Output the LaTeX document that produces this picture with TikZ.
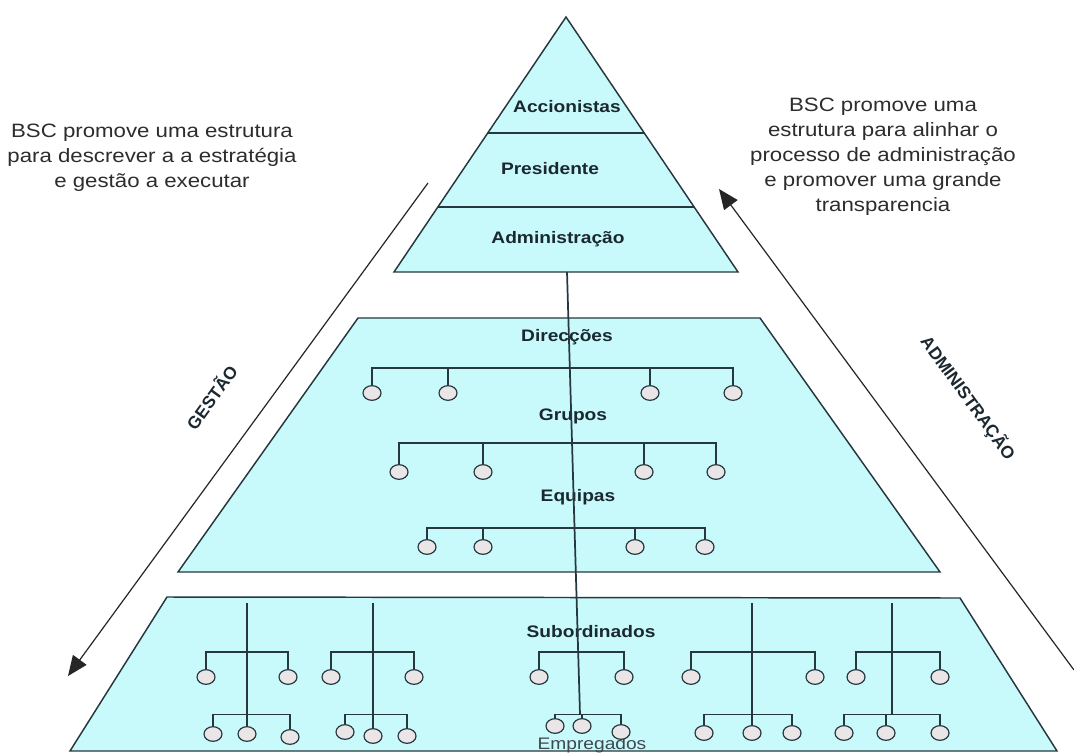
\documentclass[tikz,border=0pt]{standalone}
\usepackage{fontspec}
\setmainfont{Liberation Sans}[FakeStretch=1.15]
\newfontfamily\sidefont{Liberation Sans}
\usetikzlibrary{shapes.geometric,arrows.meta,calc}
\definecolor{pyrfill}{RGB}{200,250,252}
\definecolor{pyrline}{RGB}{38,56,62}
\definecolor{txt}{RGB}{45,45,45}
\definecolor{lbl}{RGB}{28,40,48}
\definecolor{circfill}{RGB}{234,229,231}
\begin{document}
\begin{tikzpicture}[x=0.75pt,y=-0.75pt,
  tier/.style={fill=pyrfill,draw=pyrline,line width=1.1pt,line join=miter},
  sepline/.style={draw=pyrline,line width=1.1pt},
  tline/.style={draw=pyrline,line width=1.3pt},
  emp/.style={ellipse,draw=pyrline,line width=0.9pt,fill=circfill,minimum width=13.5pt,minimum height=11pt,inner sep=0pt},
  lvl/.style={font=\bfseries\fontsize{12.5}{14}\selectfont,text=lbl,inner sep=0pt},
  lvlreg/.style={font=\fontsize{12.5}{14}\selectfont,text=lbl!85,inner sep=0pt},
  note/.style={font=\fontsize{14.5}{18.75}\selectfont,text=txt,align=center,inner sep=0pt},
  side/.style={font=\sidefont\bfseries\fontsize{13}{15}\selectfont,text=lbl,inner sep=0pt},
  flow/.style={draw=black!85,line width=0.9pt,-{Triangle[length=15pt,width=12.5pt]}},
]
\useasboundingbox (0,0) rectangle (1074,753);
\fill[white] (0,0) rectangle (1074,753);

% ---- top triangle ----
\coordinate (apex) at (566,17);
\coordinate (tbl) at (394,272);
\coordinate (tbr) at (738,272);
\draw[tier] (apex) -- (tbr) -- (tbl) -- cycle;
\draw[sepline] ($(apex)!0.455!(tbl)$) -- ($(apex)!0.455!(tbr)$);
\draw[sepline] ($(apex)!0.745!(tbl)$) -- ($(apex)!0.745!(tbr)$);

% ---- middle trapezoid ----
\draw[tier] (358,318) -- (760,318) -- (940,572) -- (178,572) -- cycle;
% ---- bottom trapezoid ----
\draw[tier] (167,597) -- (960,598) -- (1057,751) -- (70,751) -- cycle;

% ---- labels ----
\node[lvl] (acc) at (567,107) {Accionistas};
\node[lvl] (pres) at (550,169) {Presidente};
\node[lvl] (adm) at (558,239) {Administração};
\node[lvl] (dir) at (567,337) {Direcções};
\node[lvl] (grp) at (573,416) {Grupos};
\node[lvl] (eqp) at (578,497) {Equipas};
\node[lvl] (sub) at (591,632) {Subordinados};
\node[lvlreg] (empr) at (592,745) {Empregados};

% ---- middle trees ----
\coordinate (dbar) at (0,368);
\coordinate (gbar) at (0,443);
\coordinate (ebar) at (0,528);
\foreach \n/\x in {1/372,2/448,3/650,4/733} \node[emp] (dir\n) at (\x,393) {};
\foreach \n/\x in {1/399,2/483,3/644,4/716} \node[emp] (grp\n) at (\x,472) {};
\foreach \n/\x in {1/427,2/483,3/635,4/705} \node[emp] (eq\n) at (\x,547) {};
\draw[tline] (dir1.north) |- (dir4.north |- dbar) -- (dir4.north);
\draw[tline] (grp1.north) |- (grp4.north |- gbar) -- (grp4.north);
\draw[tline] (eq1.north) |- (eq4.north |- ebar) -- (eq4.north);
\foreach \n in {2,3} {
  \draw[tline] (dir\n.north) -- (dir\n.north |- dbar);
  \draw[tline] (grp\n.north) -- (grp\n.north |- gbar);
  \draw[tline] (eq\n.north) -- (eq\n.north |- ebar);
}

% ---- bottom trees ----
\coordinate (ub) at (0,652);
\coordinate (lb) at (0,714.5);
% group A
\node[emp] (sa1) at (206,677) {};
\node[emp] (sa2) at (288,677) {};
\node[emp] (sa3) at (213,734) {};
\node[emp] (sa4) at (247,734) {};
\node[emp] (sa5) at (290,737) {};
\coordinate (saTop) at (247,603);
% group B
\node[emp] (sb1) at (331,677) {};
\node[emp] (sb2) at (414,677) {};
\node[emp] (sb3) at (345,732) {};
\node[emp] (sb4) at (373,736) {};
\node[emp] (sb5) at (407,736) {};
\coordinate (sbTop) at (373,603);
% group D
\node[emp] (sd1) at (691,677) {};
\node[emp] (sd2) at (815,677) {};
\node[emp] (sd3) at (704,733) {};
\node[emp] (sd4) at (752,733) {};
\node[emp] (sd5) at (792,733) {};
\coordinate (sdTop) at (752,603);
% group E
\node[emp] (se1) at (856,677) {};
\node[emp] (se2) at (940,677) {};
\node[emp] (se3) at (844,733) {};
\node[emp] (se4) at (886,733) {};
\node[emp] (se5) at (940,733) {};
\coordinate (seTop) at (892,603);
\foreach \g in {sa,sb,sd,se} {
  \draw[tline] (\g Top) -- (\g Top |- lb);
  \draw[tline] (\g1.north) |- (\g2.north |- ub) -- (\g2.north);
  \draw[tline] (\g3.north) |- (\g5.north |- lb) -- (\g5.north);
  \draw[tline] (\g4.north) -- (\g4.north |- lb);
}
% centre group C
\node[emp] (sc1) at (539,677) {};
\node[emp] (sc2) at (624,677) {};
\node[emp] (sc3) at (555,726) {};
\node[emp] (sc4) at (582,726) {};
\node[emp] (sc5) at (621,732) {};
\draw[tline] (sc1.north) |- (sc2.north |- ub) -- (sc2.north);
\draw[tline] (sc3.north) |- (sc5.north |- lb) -- (sc5.north);
\draw[tline] (sc4.north) -- (sc4.north |- lb);

% ---- central line ----
\coordinate (cTop) at (567,272);
\coordinate (cBot) at (580,714.5);
\draw[tline] (cTop) -- (cBot);

% ---- side notes ----
\node[note] (ltxt) at (152,158) {BSC promove uma estrutura\\para descrever a a estratégia\\e gestão a executar};
\node[note] (rtxt) at (883,157) {BSC promove uma\\estrutura para alinhar o\\processo de administração\\e promover uma grande\\transparencia};

% ---- side arrows ----
\coordinate (la1) at (428,183);
\coordinate (la2) at (68,676);
\draw[flow] (la1) -- (la2);
\coordinate (ra1) at (1074,670);
\coordinate (ra2) at (719,189);
\draw[flow] (ra1) -- (ra2);
\node[side,rotate=54] (gest) at (211,397) {GESTÃO};
\node[side,rotate=-54] (admside) at (968,398) {ADMINISTRAÇÃO};
\end{tikzpicture}
\end{document}
